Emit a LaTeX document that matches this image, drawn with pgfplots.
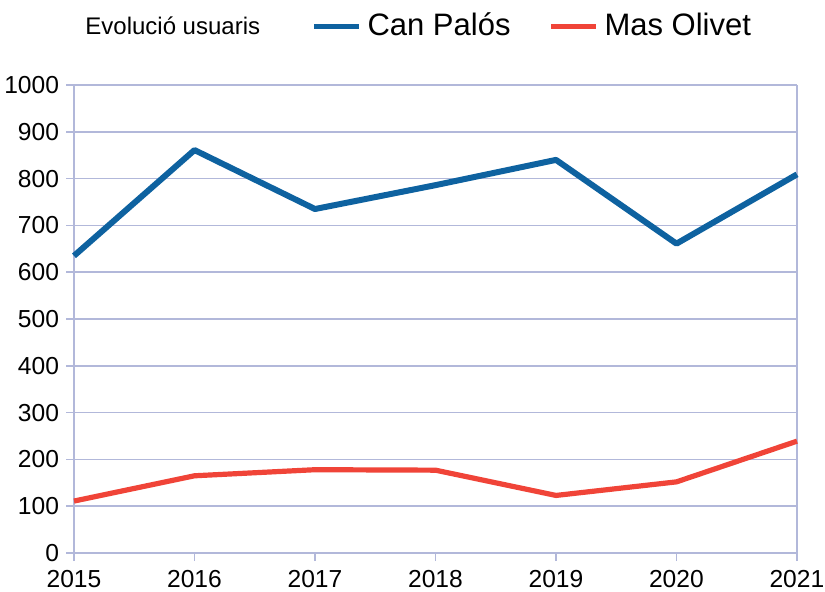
\documentclass[border=0pt]{standalone}
\usepackage{fontspec}
\setmainfont{Liberation Sans}
\usepackage{pgfplots}
\pgfplotsset{compat=1.18}
\definecolor{gridc}{RGB}{178,184,218}
\definecolor{canblue}{RGB}{14,98,160}
\definecolor{masred}{RGB}{240,68,56}
\begin{document}
\begin{tikzpicture}
\begin{axis}[
  name=ax,
  scale only axis,
  width=361.5pt, height=234pt,
  xmin=2015, xmax=2021, ymin=0, ymax=1000,
  xtick={2015,...,2021},
  ytick={0,100,...,1000},
  /pgf/number format/1000 sep={},
  /pgf/number format/assume math mode=true,
  tick label style={font=\fontsize{12.3}{14}\selectfont, text=black},
  xticklabel style={yshift=-1.2pt},
  axis line style={gridc, line width=0.8pt},
  ymajorgrids,
  grid style={gridc, line width=0.8pt},
  tick align=outside,
  major tick length=4pt,
  tick style={gridc, line width=0.8pt},
  axis x line*=bottom,
  axis y line*=left,
  clip=false,
  legend columns=2,
  legend style={draw=none, fill=none, at={(0.328,1)}, anchor=west, yshift=29.5pt,
    inner sep=0pt, font=\fontsize{15.5}{18}\selectfont,
    nodes={inner xsep=3pt},
    /tikz/every even column/.append style={column sep=16pt}},
  legend image code/.code={\draw[#1, line width=2.5pt] (0pt,0pt) -- (22.5pt,0pt);},
  legend cell align=left,
]
\draw[gridc, line width=0.8pt] (rel axis cs:1,0) -- (rel axis cs:1,1);
\addplot[canblue, line width=3pt, line join=round] coordinates {
(2015,635) (2016,861) (2017,735) (2018,786) (2019,840) (2020,661) (2021,809)};
\addlegendentry{Can Palós}
\addplot[masred, line width=2.6pt, line join=round] coordinates {
(2015,111) (2016,165) (2017,178) (2018,177) (2019,123) (2020,152) (2021,239)};
\addlegendentry{Mas Olivet}
\end{axis}
\node[anchor=west, inner sep=0pt, font=\fontsize{12}{14}\selectfont] at ([shift={(5.5pt,29.5pt)}]ax.north west) {Evolució usuaris};
\pgfresetboundingbox
\path ([shift={(-37pt,-19pt)}]ax.south west) rectangle ([shift={(14pt,42.5pt)}]ax.north east);
\end{tikzpicture}
\end{document}
